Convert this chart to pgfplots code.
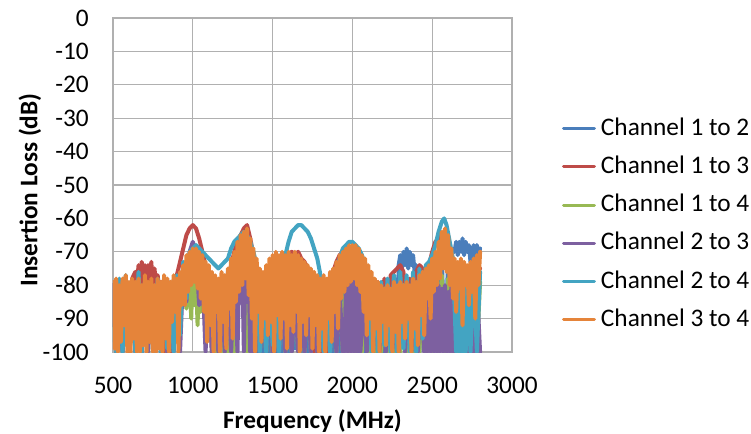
\documentclass[border=0pt]{standalone}
\usepackage{fontspec}
\setmainfont{Carlito}
\usepackage{pgfplots}
\pgfplotsset{compat=1.18}
\definecolor{cA}{HTML}{4A7EBB}
\definecolor{cB}{HTML}{BE4B48}
\definecolor{cC}{HTML}{98B954}
\definecolor{cD}{HTML}{7D60A0}
\definecolor{cE}{HTML}{43A4C2}
\definecolor{cF}{HTML}{E5843A}
\definecolor{gridc}{HTML}{B0B0B0}
\newcommand{\bigfont}{\fontsize{25.4}{30}\selectfont}
\begin{document}
\bigfont
\begin{tikzpicture}
\useasboundingbox (-113bp,-82bp) rectangle (638bp,352bp);
\begin{axis}[
  scale only axis, width=399bp, height=334bp,
  xmin=500, xmax=3000, ymin=-100, ymax=0,
  xtick={500,1000,1500,2000,2500,3000},
  xticklabels={500,1000,1500,2000,2500,3000},
  ytick={-100,-90,-80,-70,-60,-50,-40,-30,-20,-10,0},
  yticklabels={-100,-90,-80,-70,-60,-50,-40,-30,-20,-10,0},
  grid=major, major grid style={draw=gridc, line width=1.3bp},
  axis line style={draw=gridc, line width=1.3bp},
  tick style={draw=none},
  tick label style={font=\bigfont, inner sep=0pt},
  xticklabel style={anchor=base, yshift=-41bp},
  yticklabel style={anchor=east, xshift=-24bp},
  xlabel={\textbf{Frequency (MHz)}},
  ylabel={\textbf{Insertion Loss (dB)}},
  label style={font=\bigfont},
  every axis x label/.style={at={(axis description cs:0.5,0)}, anchor=base, yshift=-76bp},
  every axis y label/.style={at={(axis description cs:-0.208,0.485)}, anchor=center, rotate=90},
  legend style={draw=none, fill=none, inner sep=0pt, outer sep=0pt,
    at={(axis description cs:1.1253,0.70)}, anchor=north west,
    row sep=16.7bp, column sep=5bp, font=\bigfont, nodes={inner sep=0pt}},
  legend cell align=left,
  legend image code/.code={\draw[#1, line width=3bp] (0bp,0bp) -- (31bp,0bp);},
  every axis plot/.append style={line width=4bp, line join=round, line cap=round, no marks},
]
% Channel 1 to 2
\addplot[cA] coordinates {
(500,-80)(520,-100)(540,-79)(560,-98)(580,-80)(600,-100)(620,-79)(640,-100)(660,-81)(680,-100)
(700,-80)(720,-97)(740,-79)(760,-100)(780,-81)(800,-100)(820,-80)(840,-100)(860,-79)(880,-99)
(900,-78)(920,-92)(940,-76)(960,-86)(980,-74)(1000,-85)(1020,-73)(1040,-86)(1060,-76)(1080,-88)
(1100,-78)(1120,-100)(1140,-79)(1160,-100)(1180,-78)(1200,-100)(1220,-76)(1240,-100)(1260,-72)(1280,-84)
(1300,-69)(1320,-83)(1340,-68)(1360,-100)(1380,-73)(1400,-100)(1420,-78)(1440,-100)(1460,-79)(1480,-100)
(1500,-77)(1520,-100)(1540,-78)(1560,-100)(1580,-76)(1600,-100)(1620,-75)(1640,-99)(1660,-76)(1680,-100)
(1700,-77)(1720,-100)(1740,-79)(1760,-100)(1780,-80)(1800,-100)(1820,-81)(1840,-100)(1860,-80)(1880,-100)
(1900,-77)(1920,-100)(1940,-74)(1960,-95)(1980,-72)(2000,-98)(2020,-73)(2040,-100)(2060,-75)(2080,-100)
(2100,-78)(2120,-100)(2140,-80)(2160,-100)(2180,-81)(2200,-100)(2220,-79)(2240,-100)(2260,-77)(2280,-100)
(2290,-74)(2300,-71)(2310,-75)(2320,-70)(2330,-74)(2340,-69)(2350,-75)(2360,-70)(2370,-74)(2380,-71)
(2390,-76)(2400,-74)(2420,-100)(2440,-78)(2460,-100)(2480,-77)(2500,-100)(2520,-75)(2540,-100)(2560,-72)
(2580,-100)(2600,-72)(2620,-70)(2640,-70)(2650,-67)(2660,-71)(2670,-67)(2680,-70)(2690,-66)(2700,-71)
(2710,-67)(2720,-70)(2730,-68)(2740,-73)(2750,-70)(2760,-68)(2770,-72)(2780,-68)(2790,-71)(2800,-69)
};
\addlegendentry{Channel 1 to 2}
% Channel 1 to 3
\addplot[cB] coordinates {
(500,-80)(520,-100)(540,-79)(560,-100)(580,-80)(600,-100)(620,-78)(640,-76)(650,-80)(660,-74)
(670,-81)(680,-73)(690,-80)(700,-74)(710,-82)(720,-74)(730,-80)(740,-73)(750,-81)(760,-75)
(770,-80)(780,-77)(790,-82)(800,-79)(820,-100)(840,-80)(860,-100)(880,-79)(900,-77)(920,-73)
(940,-69)(960,-65)(980,-63)(1000,-62)(1020,-63)(1040,-66)(1060,-70)(1080,-74)(1100,-78)(1120,-100)
(1140,-80)(1160,-100)(1180,-79)(1200,-100)(1220,-78)(1240,-74)(1260,-70)(1280,-67)(1300,-65)(1320,-63)
(1340,-62)(1360,-66)(1380,-71)(1400,-76)(1420,-100)(1440,-79)(1460,-100)(1480,-78)(1500,-100)(1520,-77)
(1540,-95)(1560,-74)(1580,-72)(1600,-71)(1620,-70)(1640,-71)(1660,-70)(1680,-72)(1700,-73)(1720,-75)
(1740,-78)(1760,-100)(1780,-79)(1800,-100)(1820,-80)(1840,-100)(1860,-79)(1880,-76)(1900,-73)(1920,-71)
(1940,-70)(1960,-69)(1980,-69)(2000,-70)(2020,-70)(2040,-72)(2060,-74)(2080,-77)(2100,-100)(2120,-80)
(2140,-100)(2160,-79)(2180,-100)(2200,-78)(2220,-98)(2240,-77)(2260,-76)(2280,-75)(2300,-74)(2320,-76)
(2340,-100)(2360,-78)(2380,-100)(2400,-76)(2420,-74)(2440,-75)(2460,-100)(2480,-74)(2500,-70)(2520,-67)
(2540,-66)(2560,-65)(2580,-67)(2600,-70)(2620,-74)(2640,-100)(2660,-76)(2680,-100)(2700,-75)(2720,-100)
(2740,-77)(2760,-100)(2780,-76)(2800,-75)
};
\addlegendentry{Channel 1 to 3}
% Channel 1 to 4
\addplot[cC] coordinates {
(500,-82)(520,-100)(540,-81)(560,-100)(580,-80)(600,-99)(620,-82)(640,-100)(660,-80)(680,-100)
(700,-81)(720,-100)(740,-80)(760,-98)(780,-82)(800,-100)(820,-81)(840,-100)(860,-80)(880,-100)
(900,-80)(920,-92)(940,-78)(960,-87)(970,-80)(980,-76)(990,-90)(1000,-75)(1010,-86)(1020,-77)
(1030,-92)(1040,-75)(1050,-88)(1060,-78)(1070,-86)(1080,-80)(1100,-94)(1120,-80)(1140,-100)(1160,-81)
(1180,-100)(1200,-80)(1220,-100)(1240,-79)(1260,-100)(1280,-76)(1300,-84)(1320,-74)(1340,-100)(1360,-76)
(1380,-100)(1400,-80)(1420,-100)(1440,-81)(1460,-100)(1480,-80)(1500,-100)(1520,-81)(1540,-100)(1560,-80)
(1580,-100)(1600,-81)(1620,-100)(1640,-80)(1660,-100)(1680,-81)(1700,-100)(1720,-80)(1740,-100)(1760,-82)
(1780,-100)(1800,-81)(1820,-100)(1840,-82)(1860,-100)(1880,-80)(1900,-100)(1920,-79)(1940,-100)(1960,-78)
(1980,-100)(2000,-79)(2020,-100)(2040,-79)(2060,-100)(2080,-80)(2100,-100)(2120,-81)(2140,-100)(2160,-82)
(2180,-100)(2200,-81)(2220,-100)(2240,-82)(2260,-100)(2280,-81)(2300,-100)(2320,-80)(2340,-100)(2360,-81)
(2380,-100)(2400,-80)(2420,-100)(2440,-79)(2460,-100)(2480,-80)(2500,-100)(2520,-78)(2540,-100)(2560,-77)
(2580,-100)(2600,-78)(2620,-100)(2640,-79)(2660,-100)(2680,-80)(2700,-100)(2720,-80)(2740,-100)(2760,-81)
(2780,-100)(2800,-79)
};
\addlegendentry{Channel 1 to 4}
% Channel 2 to 3
\addplot[cD] coordinates {
(500,-80)(520,-100)(540,-82)(560,-100)(580,-79)(600,-100)(620,-84)(640,-100)(660,-80)(680,-100)
(700,-83)(720,-100)(740,-81)(760,-100)(780,-84)(800,-100)(820,-80)(840,-100)(860,-86)(880,-100)
(900,-82)(920,-100)(940,-76)(960,-85)(980,-70)(1000,-67)(1020,-70)(1040,-86)(1060,-76)(1080,-100)
(1100,-80)(1120,-100)(1140,-83)(1160,-100)(1180,-80)(1200,-100)(1220,-82)(1240,-100)(1260,-76)(1280,-100)
(1290,-78)(1300,-84)(1310,-74)(1320,-100)(1330,-72)(1340,-85)(1350,-75)(1360,-100)(1370,-79)(1380,-100)
(1400,-84)(1420,-100)(1440,-85)(1460,-100)(1480,-84)(1500,-100)(1520,-86)(1540,-100)(1560,-82)(1580,-100)
(1600,-88)(1620,-100)(1640,-84)(1660,-100)(1680,-85)(1700,-100)(1720,-83)(1740,-100)(1760,-88)(1780,-100)
(1800,-86)(1820,-100)(1840,-84)(1860,-100)(1880,-85)(1900,-100)(1920,-82)(1940,-100)(1950,-100)(1960,-80)
(1970,-100)(1980,-78)(1990,-100)(2000,-77)(2010,-100)(2020,-78)(2030,-100)(2040,-80)(2050,-100)(2070,-85)
(2090,-100)(2110,-87)(2130,-100)(2150,-84)(2170,-100)(2190,-88)(2210,-100)(2230,-86)(2250,-100)(2270,-84)
(2290,-100)(2310,-87)(2330,-100)(2350,-85)(2370,-100)(2390,-83)(2410,-100)(2430,-82)(2450,-100)(2460,-80)
(2470,-100)(2480,-79)(2490,-100)(2500,-78)(2510,-100)(2520,-79)(2530,-100)(2540,-80)(2550,-100)(2560,-81)
(2570,-100)(2580,-80)(2590,-100)(2600,-82)(2610,-100)(2620,-80)(2630,-100)(2660,-84)(2680,-100)(2700,-82)
(2720,-100)(2740,-84)(2760,-100)(2780,-80)(2800,-100)
};
\addlegendentry{Channel 2 to 3}
% Channel 2 to 4
\addplot[cE] coordinates {
(500,-92)(520,-100)(540,-78)(560,-100)(580,-77)(600,-98)(620,-79)(640,-100)(660,-76)(680,-100)
(700,-79)(720,-97)(740,-80)(760,-100)(780,-78)(800,-100)(820,-80)(840,-99)(860,-79)(880,-100)
(900,-77)(920,-95)(940,-73)(960,-84)(980,-70)(1000,-69)(1020,-68)(1040,-69)(1060,-70)(1080,-71)
(1100,-72)(1120,-73)(1140,-74)(1160,-75)(1180,-74)(1200,-73)(1220,-72)(1240,-69)(1260,-67)(1280,-66)
(1300,-65)(1320,-64)(1340,-65)(1360,-67)(1380,-70)(1400,-74)(1420,-100)(1440,-78)(1460,-100)(1480,-77)
(1500,-98)(1520,-76)(1540,-100)(1560,-74)(1580,-71)(1600,-67)(1620,-64)(1640,-63)(1660,-62)(1680,-62)
(1700,-63)(1720,-64)(1740,-66)(1760,-69)(1780,-72)(1800,-77)(1820,-100)(1840,-79)(1860,-100)(1880,-78)
(1900,-75)(1920,-72)(1940,-69)(1960,-68)(1980,-67)(2000,-67)(2020,-68)(2040,-69)(2060,-71)(2080,-74)
(2100,-77)(2120,-100)(2140,-80)(2160,-100)(2180,-79)(2200,-98)(2220,-78)(2240,-100)(2260,-77)(2280,-100)
(2300,-76)(2320,-99)(2340,-77)(2360,-100)(2380,-76)(2400,-100)(2420,-75)(2440,-96)(2460,-74)(2480,-73)
(2500,-71)(2520,-68)(2540,-64)(2560,-61)(2575,-60)(2590,-62)(2610,-67)(2630,-72)(2650,-100)(2660,-76)
(2670,-100)(2680,-78)(2690,-100)(2700,-80)(2710,-100)(2720,-78)(2740,-100)(2760,-77)(2780,-100)(2800,-76)
};
\addlegendentry{Channel 2 to 4}
% Channel 3 to 4
\addplot[cF] coordinates {
(500,-79)(510,-99)(520,-78)(530,-100)(540,-80)(550,-97)(560,-78)(570,-92)(580,-77)(590,-100)
(600,-79)(610,-100)(620,-78)(630,-96)(640,-79)(650,-100)(660,-78)(670,-100)(680,-80)(690,-98)
(700,-77)(710,-100)(720,-79)(730,-97)(740,-78)(750,-100)(760,-80)(770,-100)(780,-78)(790,-99)
(800,-79)(810,-100)(820,-77)(830,-96)(840,-78)(850,-100)(860,-79)(870,-91)(880,-77)(890,-88)
(900,-78)(910,-100)(920,-76)(930,-86)(940,-74)(950,-86)(960,-71)(970,-82)(980,-70)(990,-80)
(1000,-69)(1010,-79)(1020,-69)(1030,-81)(1040,-70)(1050,-84)(1060,-71)(1070,-88)(1080,-73)(1090,-97)
(1100,-74)(1110,-92)(1120,-76)(1130,-100)(1140,-77)(1150,-88)(1160,-78)(1170,-100)(1180,-76)(1190,-91)
(1200,-77)(1210,-99)(1220,-75)(1230,-87)(1240,-72)(1250,-96)(1260,-70)(1270,-85)(1280,-67)(1290,-82)
(1300,-65)(1310,-80)(1320,-64)(1330,-78)(1340,-63)(1350,-83)(1360,-66)(1370,-90)(1380,-69)(1390,-100)
(1400,-72)(1410,-88)(1420,-75)(1430,-97)(1440,-76)(1450,-90)(1460,-74)(1470,-95)(1480,-72)(1490,-91)
(1500,-71)(1510,-100)(1520,-70)(1530,-89)(1540,-71)(1550,-96)(1560,-70)(1570,-90)(1580,-71)(1590,-99)
(1600,-70)(1610,-92)(1620,-71)(1630,-94)(1640,-70)(1650,-88)(1660,-71)(1670,-100)(1680,-72)(1690,-91)
(1700,-73)(1710,-95)(1720,-74)(1730,-89)(1740,-75)(1750,-99)(1760,-76)(1770,-92)(1780,-77)(1790,-100)
(1800,-78)(1810,-93)(1820,-77)(1830,-100)(1840,-78)(1850,-90)(1860,-76)(1870,-97)(1880,-75)(1890,-88)
(1900,-73)(1910,-93)(1920,-71)(1930,-84)(1940,-70)(1950,-82)(1960,-69)(1970,-80)(1980,-68)(1990,-79)
(2000,-68)(2010,-78)(2020,-68)(2030,-80)(2040,-69)(2050,-82)(2060,-71)(2070,-88)(2080,-72)(2090,-95)
(2100,-74)(2110,-90)(2120,-76)(2130,-100)(2140,-78)(2150,-93)(2160,-79)(2170,-100)(2180,-80)(2190,-91)
(2200,-81)(2210,-98)(2220,-80)(2230,-92)(2240,-81)(2250,-100)(2260,-79)(2270,-94)(2280,-80)(2290,-100)
(2300,-79)(2310,-91)(2320,-80)(2330,-96)(2340,-79)(2350,-90)(2360,-80)(2370,-100)(2380,-78)(2390,-93)
(2400,-79)(2410,-98)(2420,-77)(2430,-89)(2440,-76)(2450,-95)(2460,-75)(2470,-84)(2480,-74)(2490,-90)
(2500,-72)(2510,-82)(2520,-70)(2530,-80)(2540,-67)(2550,-78)(2560,-64)(2570,-75)(2580,-63)(2590,-76)
(2600,-65)(2610,-80)(2620,-69)(2630,-84)(2640,-72)(2650,-88)(2660,-73)(2670,-81)(2680,-72)(2690,-92)
(2700,-73)(2710,-80)(2720,-74)(2730,-86)(2740,-73)(2750,-82)(2760,-72)(2770,-90)(2780,-71)(2790,-80)
(2800,-70)
};
\addlegendentry{Channel 3 to 4}
\end{axis}
\end{tikzpicture}
\end{document}
